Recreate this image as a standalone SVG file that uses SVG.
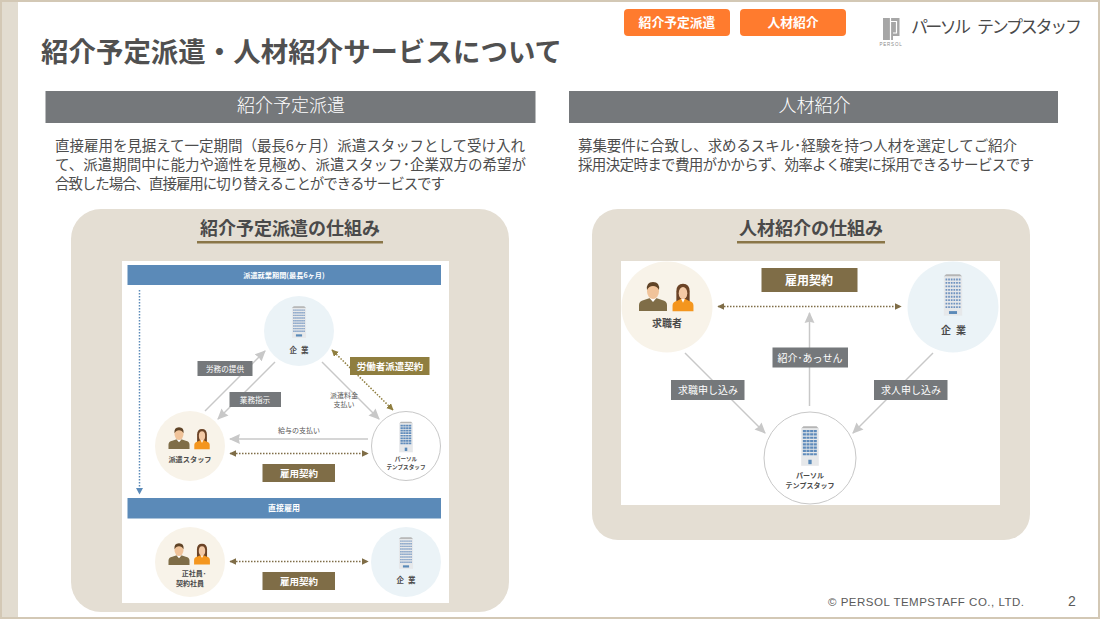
<svg xmlns="http://www.w3.org/2000/svg" width="1100" height="619" viewBox="0 0 1100 619">
<style>
text{font-family:"Noto Sans CJK JP","Liberation Sans",sans-serif}
.gline{stroke:#c8c8c8;fill:none;stroke-width:1.5}
.dash{stroke:#7f6d47;fill:none;stroke-dasharray:1.5 1.5;stroke-width:1.5}
.lab{fill:#75787b}
.brown{fill:#7f6d47}
.wt{fill:#fff;text-anchor:middle}
.dk{fill:#4a4a4a;text-anchor:middle}
.body{fill:#4d4d4d;font-size:14.5px}
</style>
<defs>
<marker id="ga" viewBox="0 0 10 10" refX="9" refY="5" markerUnits="userSpaceOnUse" markerWidth="11" markerHeight="11" orient="auto"><path d="M0 0.500L10 5L0 9.500L1 5Z" fill="#c8c8c8"/></marker>
<marker id="ba" viewBox="0 0 10 10" refX="9" refY="5" markerUnits="userSpaceOnUse" markerWidth="7" markerHeight="7" orient="auto-start-reverse"><path d="M0 0L10 5L0 10Z" fill="#7f6d47"/></marker>
<marker id="ya" viewBox="0 0 10 10" refX="9" refY="5" markerUnits="userSpaceOnUse" markerWidth="7" markerHeight="7" orient="auto-start-reverse"><path d="M0 0L10 5L0 10Z" fill="#8f7e3f"/></marker>
<g id="bld">
<path d="M-8 -16L-6 -18H6L8 -16Z" fill="#b5b5b5"/>
<rect x="-8" y="-16" width="16" height="34" fill="#e6e8ea"/>
<path d="M-6.500 -13.500H6.500M-6.500 -10.500H6.500M-6.500 -7.500H6.500M-6.500 -4.500H6.500M-6.500 -1.500H6.500M-6.500 1.500H6.500M-6.500 4.500H6.500M-6.500 7.500H6.500M-6.500 10.500H6.500" stroke="#6f93c0" stroke-width="1.600" stroke-dasharray="1.500 0.800"/>
<rect x="-3.500" y="14" width="7" height="2.500" fill="#5b8ab8"/>
</g>
<g id="bld2">
<path d="M-8 -16L-6 -18H6L8 -16Z" fill="#b5b5b5"/>
<rect x="-8" y="-16" width="16" height="34" fill="#e6e8ea"/>
<path d="M-6.500 -13.500H6.500M-6.500 -10.500H6.500M-6.500 -7.500H6.500M-6.500 -4.500H6.500M-6.500 -1.500H6.500M-6.500 1.500H6.500M-6.500 4.500H6.500M-6.500 7.500H6.500" stroke="#5f8bbb" stroke-width="2" stroke-dasharray="2.800 0.500"/>
<rect x="-1.500" y="12.500" width="3" height="4" fill="#5b8ab8"/>
</g>
<g id="man">
<path d="M-14 16V10Q-14 6 -9 5L-3 3H3L9 5Q14 6 14 10V16Z" fill="#7f6d47"/>
<path d="M-3.500 3L0 7L3.500 3Z" fill="#fff"/>
<ellipse cx="0" cy="-4" rx="6" ry="8" fill="#f0c39a"/>
<path d="M-6 -5Q-7 -13 0 -13Q7 -13 6 -5Q4 -9 0 -9Q-4 -9 -6 -5Z" fill="#5f4326"/>
</g>
<g id="woman">
<path d="M-7 7V-5Q-7 -13 0 -13Q7 -13 7 -5V7Z" fill="#6b4326"/>
<path d="M-11 16V10Q-11 6 -6 5L-2 3H2L6 5Q11 6 11 10V16Z" fill="#f4961e"/>
<path d="M-2 3L0 7L2 3Z" fill="#fff"/>
<ellipse cx="0" cy="-3" rx="4.500" ry="6.500" fill="#f3c9a5"/>
</g>
</defs>

<g id="frame">
<rect width="1100" height="619" fill="#fff"/>
<rect x="0" y="0" width="18" height="619" fill="#e2dcd0"/>
<path d="M1 1H1099V618H1V1Z" fill="none" stroke="#d3c8b5" stroke-width="2"/>
</g>

<text x="41" y="62" font-size="27.400" font-weight="700" fill="#505050" textLength="521">紹介予定派遣・人材紹介サービスについて</text>

<g id="tab-haken"><rect x="624" y="9" width="106" height="27" rx="4" fill="#ff7b2e"/><text x="677" y="27" font-size="12.800" font-weight="700" class="wt">紹介予定派遣</text></g>
<g id="tab-shokai"><rect x="740" y="9" width="106" height="27" rx="4" fill="#ff7b2e"/><text x="793" y="27" font-size="12.800" font-weight="700" class="wt">人材紹介</text></g>
<g id="logo">
<path d="M883 18H899.500V36H893V40H883Z" fill="#a6a6a6"/>
<path d="M890.500 18V40M890.500 21.500H896.500V33H893" fill="none" stroke="#fff" stroke-width="1.200"/>
<text x="891" y="45.500" font-size="4.500" text-anchor="middle" fill="#8a8a8a" letter-spacing="0.800" style="font-family:'Liberation Sans',sans-serif">PERSOL</text>
<text y="33" font-size="17" fill="#4a4a4a"><tspan x="911" textLength="60">パーソル</tspan><tspan x="977" textLength="105">テンプスタッフ</tspan></text>
</g>

<g id="head-left"><rect x="45.500" y="91" width="490" height="32" fill="#75787b"/><text x="291" y="112" font-size="18" class="wt" font-weight="300">紹介予定派遣</text></g>
<g id="head-right"><rect x="569" y="91" width="489" height="32" fill="#75787b"/><text x="814.500" y="112" font-size="18" class="wt" font-weight="300">人材紹介</text></g>

<g id="desc-left" class="body">
<text x="55" y="151" textLength="470">直接雇用を見据えて一定期間（最長6ヶ月）派遣スタッフとして受け入れ</text>
<text x="55" y="170" textLength="471">て、派遣期間中に能力や適性を見極め、派遣スタッフ･企業双方の希望が</text>
<text x="55" y="189" textLength="390">合致した場合、直接雇用に切り替えることができるサービスです</text>
</g>
<g id="desc-right" class="body">
<text x="578" y="151" textLength="439">募集要件に合致し、求めるスキル･経験を持つ人材を選定してご紹介</text>
<text x="578" y="170" textLength="456">採用決定時まで費用がかからず、効率よく確実に採用できるサービスです</text>
</g>

<g id="panel-left">
<rect x="71" y="209" width="438" height="403" rx="30" fill="#e4ded3"/>
<text x="290" y="235" font-size="18" font-weight="700" text-anchor="middle" fill="#4a4a4a">紹介予定派遣の仕組み</text>
<rect x="197" y="241" width="186" height="2.500" fill="#8a7648"/>
<rect x="122" y="261" width="327" height="342" fill="#fff"/>
</g>
<g id="panel-right">
<rect x="592" y="209" width="438" height="331" rx="26" fill="#e4ded3"/>
<text x="811" y="235" font-size="18" font-weight="700" text-anchor="middle" fill="#4a4a4a">人材紹介の仕組み</text>
<rect x="737" y="241" width="148" height="2.500" fill="#8a7648"/>
<rect x="621" y="261" width="379" height="244" fill="#fff"/>
</g>

<g id="bar-period"><rect x="127.500" y="265" width="313.500" height="20" fill="#5b8ab8"/><text x="284" y="277.500" font-size="7.200" font-weight="700" class="wt">派遣就業期間(最長6ヶ月)</text></g>
<g id="bar-direct"><rect x="127.500" y="498" width="313.500" height="20.500" fill="#5b8ab8"/><text x="284" y="511" font-size="8" font-weight="700" class="wt">直接雇用</text></g>

<g id="connectors">
<path d="M139.500 290V489" stroke="#5b8ab8" stroke-width="1.500" stroke-dasharray="1.500 1.500" fill="none"/>
<path d="M136 488H143L139.500 494.500Z" fill="#5b8ab8"/>
<path class="gline" marker-end="url(#ga)" d="M205 411L265 351"/>
<path class="gline" marker-end="url(#ga)" d="M275 362L218 419"/>
<path class="gline" marker-end="url(#ga)" d="M322 362L379 419"/>
<path class="gline" marker-end="url(#ga)" d="M368 439H230"/>
<path stroke="#8f7e3f" stroke-width="1.500" stroke-dasharray="1.500 1.500" fill="none" marker-start="url(#ya)" marker-end="url(#ya)" d="M332 350L393 410"/>
<path class="dash" marker-start="url(#ba)" marker-end="url(#ba)" d="M230 453.500H368"/>
<path class="dash" marker-start="url(#ba)" marker-end="url(#ba)" d="M230 561.500H368"/>
<path class="gline" marker-end="url(#ga)" d="M685 353L765 433"/>
<path class="gline" marker-end="url(#ga)" d="M933 353L853 433"/>
<path class="gline" marker-end="url(#ga)" d="M809.500 406V313"/>
<path class="dash" marker-start="url(#ba)" marker-end="url(#ba)" d="M718 306.500H901"/>
</g>

<g id="node-kigyo-l"><circle cx="299" cy="331" r="35" fill="#ebf3f7"/><use href="#bld" transform="translate(299 322) scale(.88)"/><text x="299" y="352.500" font-size="7.500" font-weight="700" class="dk" textLength="19">企 業</text></g>
<g id="node-staff"><circle cx="190" cy="446" r="35" fill="#f8f3e9"/><use href="#man" transform="translate(179 437) scale(.75)"/><use href="#woman" transform="translate(202 438) scale(.7)"/><text x="190" y="462" font-size="7.200" font-weight="700" class="dk">派遣スタッフ</text></g>
<g id="node-persol-l"><circle cx="406" cy="446" r="34.500" fill="#fff" stroke="#c8c8c8"/><use href="#bld2" transform="translate(406 437) scale(.85)"/><text x="406" y="461" font-size="5.600" font-weight="700" class="dk">パーソル</text><text x="406" y="469" font-size="5.600" font-weight="700" class="dk">テンプスタッフ</text></g>
<g id="node-seishain"><circle cx="190" cy="562" r="35" fill="#f8f3e9"/><use href="#man" transform="translate(179 553) scale(.75)"/><use href="#woman" transform="translate(202 553) scale(.72)"/><text x="194" y="576" font-size="7" font-weight="700" class="dk">正社員･</text><text x="190" y="586" font-size="7" font-weight="700" class="dk">契約社員</text></g>
<g id="node-kigyo-b"><circle cx="406" cy="562" r="35" fill="#ebf3f7"/><use href="#bld" transform="translate(406 553) scale(.88)"/><text x="406" y="583" font-size="7.500" font-weight="700" class="dk" textLength="19">企 業</text></g>

<g id="label-roumu"><rect x="197.500" y="361" width="55" height="15" class="lab"/><text x="225" y="371.500" font-size="7.600" class="wt">労務の提供</text></g>
<g id="label-gyomu"><rect x="229.500" y="392" width="51.500" height="15" class="lab"/><text x="255" y="402.500" font-size="7.600" class="wt">業務指示</text></g>
<g id="label-keiyaku"><rect x="350" y="357" width="79.500" height="18" fill="#8f7e3f"/><text x="390" y="370" font-size="9.500" font-weight="700" class="wt">労働者派遣契約</text></g>
<text x="344" y="398" font-size="7" text-anchor="middle" fill="#555">派遣料金</text>
<text x="344" y="407" font-size="7" text-anchor="middle" fill="#555">支払い</text>
<text x="299" y="433" font-size="7" text-anchor="middle" fill="#555">給与の支払い</text>
<g id="label-koyo1"><rect x="262.500" y="464" width="72.500" height="18" class="brown"/><text x="299" y="477" font-size="9.500" font-weight="700" class="wt">雇用契約</text></g>
<g id="label-koyo2"><rect x="262.500" y="572" width="72.500" height="18" class="brown"/><text x="299" y="585" font-size="9.500" font-weight="700" class="wt">雇用契約</text></g>

<g id="node-kyushoku"><circle cx="667" cy="307" r="45.500" fill="#f8f3e9"/><use href="#man" transform="translate(653 295)"/><use href="#woman" transform="translate(683 296) scale(.95)"/><text x="667" y="327" font-size="10" font-weight="700" class="dk">求職者</text></g>
<g id="node-kigyo-r"><circle cx="953" cy="307" r="45.500" fill="#ebf3f7"/><use href="#bld" transform="translate(953 295) scale(1.150)"/><text x="953.500" y="334" font-size="10" font-weight="700" class="dk" textLength="25">企 業</text></g>
<g id="node-persol-r"><circle cx="810" cy="458" r="46" fill="#fff" stroke="#c8c8c8"/><use href="#bld2" transform="translate(810 446) scale(1.100)"/><text x="810" y="478" font-size="7" font-weight="700" class="dk">パーソル</text><text x="810" y="488" font-size="7" font-weight="700" class="dk">テンプスタッフ</text></g>

<g id="label-koyo-r"><rect x="761.500" y="268" width="96" height="24" class="brown"/><text x="809" y="285" font-size="12" font-weight="700" class="wt">雇用契約</text></g>
<g id="label-shokai"><rect x="772.500" y="347.500" width="75.500" height="20" class="lab"/><text x="810" y="361.500" font-size="10" class="wt">紹介･あっせん</text></g>
<g id="label-shoku"><rect x="671" y="380" width="73.500" height="20" class="lab"/><text x="708" y="394" font-size="10" class="wt">求職申し込み</text></g>
<g id="label-jin"><rect x="874" y="380" width="73.500" height="20" class="lab"/><text x="911" y="394" font-size="10" class="wt">求人申し込み</text></g>

<g id="footer">
<text x="828" y="606" font-size="11.500" fill="#5a5a5a" textLength="196" style="font-family:'Liberation Sans',sans-serif">© PERSOL TEMPSTAFF CO., LTD.</text>
<text x="1068" y="606" font-size="14" fill="#5a5a5a" style="font-family:'Liberation Sans',sans-serif">2</text>
</g>
</svg>
